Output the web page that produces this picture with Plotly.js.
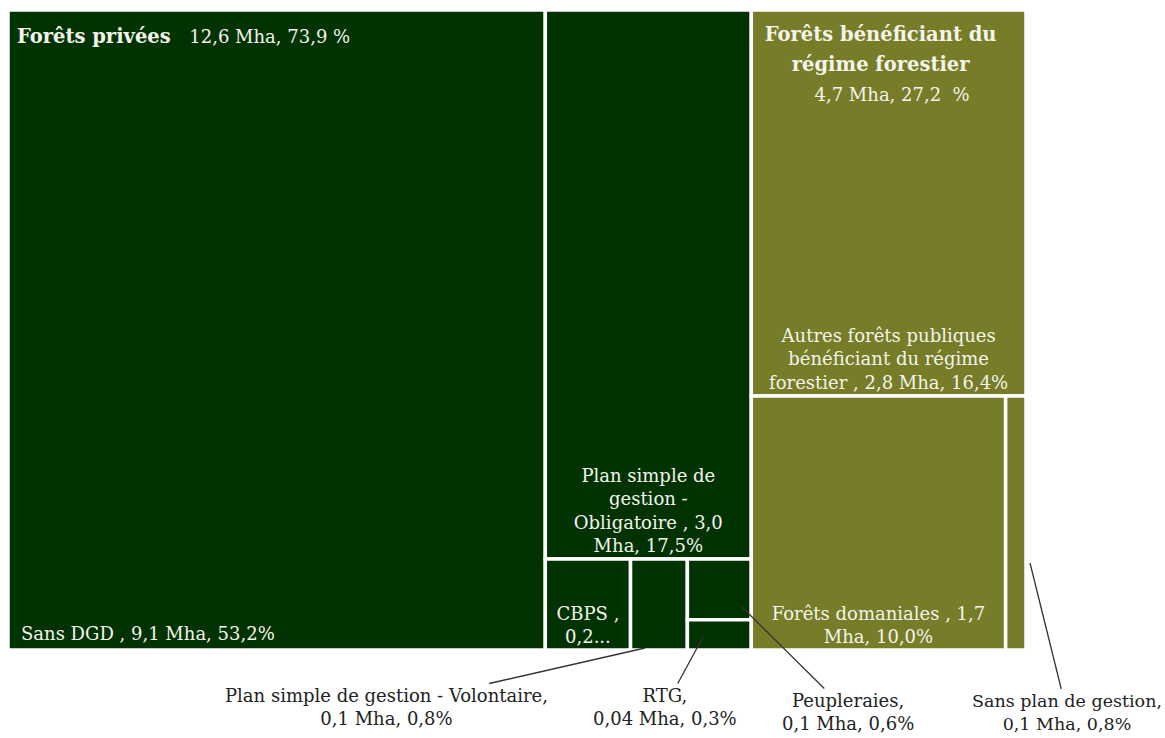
<!DOCTYPE html>
<html>
<head>
<meta charset="utf-8">
<script src="https://cdn.plot.ly/plotly-3.0.1.min.js"></script>
<style>html,body{margin:0;padding:0;background:#fff;}#chart{width:1165px;height:738px;}</style>
</head>
<body>
<div id="chart"></div>
<script>
// ---- data ----
const ids = ['total','priv','pub','sansdgd','psgo','cbps','psgv','peup','rtg','autres','doman','sansplan'];
const labels = ['Total','Forêts privées','Forêts bénéficiant du régime forestier','Sans DGD',
  'Plan simple de gestion - Obligatoire','CBPS','Plan simple de gestion - Volontaire','Peupleraies','RTG',
  'Autres forêts publiques bénéficiant du régime forestier','Forêts domaniales','Sans plan de gestion'];
const parents = ['','total','total','priv','priv','priv','priv','priv','priv','pub','pub','pub'];
const mha = [17.3, 12.6, 4.7, 9.1, 3.0, 0.2, 0.1, 0.1, 0.04, 2.8, 1.7, 0.1];
const pct = [0, 0, 0, 53.2, 17.5, 1.2, 0.8, 0.6, 0.3, 16.4, 10.0, 0.8];   // cell area values (%)

// label texts as displayed
const leafTextCenter = {
  psgo: 'Plan simple de<br>gestion -<br>Obligatoire , 3,0<br>Mha, 17,5%',
  cbps: 'CBPS ,<br>0,2...',
  autres: 'Autres forêts publiques<br>bénéficiant du régime<br>forestier , 2,8 Mha, 16,4%',
  doman: 'Forêts domaniales , 1,7<br>Mha, 10,0%'
};
const leafTextLeft = { sansdgd: 'Sans DGD , 9,1 Mha, 53,2%' };
const headerLeft = { priv: '<b>Forêts privées</b>\u00a0\u00a0 <span style="font-size:18px">12,6 Mha, 73,9 %</span>' };
const headerCenter = { pub:
  '<span style="font-size:19.5px"><b>Forêts bénéficiant du</b></span><br>' +
  '<span style="font-size:19.5px"><b>régime forestier</b></span><br>' +
  '<span style="font-size:18px">\u00a0\u00a0\u00a0\u00a04,7 Mha, 27,2 \u00a0%</span>' };

const DARK = 'rgb(1,51,2)';
const OLIVE = 'rgb(118,124,40)';
function colorOf(id) {
  if (id === 'total') return '#ffffff';
  const p = parents[ids.indexOf(id)];
  return (id === 'pub' || p === 'pub') ? OLIVE : DARK;
}

const W = 1165, H = 738;
function domainPx(x0, x1, y0, y1) { return {x: [x0 / W, x1 / W], y: [1 - y1 / H, 1 - y0 / H]}; }
const TXT = '#f4f4ea';
const FONT = 'DejaVu Serif';

function fullTrace(textMap, pos, fill, fontSize, dom) {
  return {
    type: 'treemap',
    ids: ids, labels: labels, parents: parents, values: pct,
    branchvalues: 'remainder',
    sort: true,
    domain: dom,
    text: ids.map(id => textMap[id] || ''),
    textinfo: 'text',
    textposition: pos,
    textfont: {family: FONT, size: fontSize, color: TXT},
    hoverinfo: 'skip',
    tiling: {packing: 'squarify', squarifyratio: 1, pad: 0},
    pathbar: {visible: false},
    leaf: {opacity: 1},
    marker: {
      colors: ids.map(id => fill ? colorOf(id) : 'rgba(0,0,0,0)'),
      line: {color: fill ? '#ffffff' : 'rgba(0,0,0,0)', width: fill ? 3.5 : 0},
      pad: {t: 0, l: 0, r: 0, b: 0},
      depthfade: false
    }
  };
}

// group-level trace (root + the two groups as leaves) for the group titles
const gIds = ['total', 'priv', 'pub'];
const gParents = ['', 'total', 'total'];
const gValues = gIds.map(g => g === 'total' ? 0 :
  pct.reduce((s, v, i) => s + (parents[i] === g ? v : 0), 0));
function groupTrace(textMap, pos, fontSize, dom) {
  return {
    type: 'treemap',
    ids: gIds, labels: gIds.map(g => labels[ids.indexOf(g)]), parents: gParents, values: gValues,
    branchvalues: 'remainder',
    sort: true,
    domain: dom,
    text: gIds.map(id => textMap[id] || ''),
    textinfo: 'text',
    textposition: pos,
    textfont: {family: FONT, size: fontSize, color: TXT},
    hoverinfo: 'skip',
    tiling: {packing: 'squarify', squarifyratio: 1, pad: 0},
    pathbar: {visible: false},
    leaf: {opacity: 1},
    marker: {
      colors: gIds.map(() => 'rgba(0,0,0,0)'),
      line: {color: 'rgba(0,0,0,0)', width: 0},
      pad: {t: 0, l: 0, r: 0, b: 0},
      depthfade: false
    }
  };
}

const traces = [
  fullTrace(leafTextCenter, 'bottom center', true, 18, domainPx(8, 1026, 10, 650)),
  fullTrace(leafTextLeft, 'bottom left', false, 18, domainPx(18, 1036, 7, 647)),
  groupTrace(headerLeft, 'top left', 19.5, domainPx(14, 1032, 22, 662)),
  groupTrace(headerCenter, 'top center', 23, domainPx(0, 1018, 20, 660))
];

// outside labels for small cells
const outLabels = [
  {text: 'Plan simple de gestion - Volontaire,<br>0,1 Mha, 0,8%', x: 645 / W, y: 1 - 648 / H, ax: -259, ay: 59},
  {text: 'RTG,<br>0,04 Mha, 0,3%', x: 703 / W, y: 1 - 637 / H, ax: -38, ay: 70},
  {text: 'Peupleraies,<br>0,1 Mha, 0,6%', x: 742 / W, y: 1 - 607 / H, ax: 106, ay: 105},
  {text: 'Sans plan de gestion,<br>0,1 Mha, 0,8%', x: 1030 / W, y: 1 - 563 / H, ax: 37, ay: 149, size: 17.5}
];

const layout = {
  width: W, height: H,
  margin: {l: 0, r: 0, t: 0, b: 0},
  paper_bgcolor: '#ffffff',
  showlegend: false,
  font: {family: FONT, color: '#222'},
  annotations: outLabels.map(a => ({
    xref: 'paper', yref: 'paper', x: a.x, y: a.y, ax: a.ax, ay: a.ay,
    text: a.text, showarrow: true, arrowhead: 0, arrowwidth: 1.3, arrowcolor: '#333',
    font: {family: FONT, size: a.size || 18, color: '#222'}, align: 'center', standoff: 0
  }))
};

Plotly.newPlot('chart', traces, layout, {displayModeBar: false, staticPlot: true});
</script>
</body>
</html>
